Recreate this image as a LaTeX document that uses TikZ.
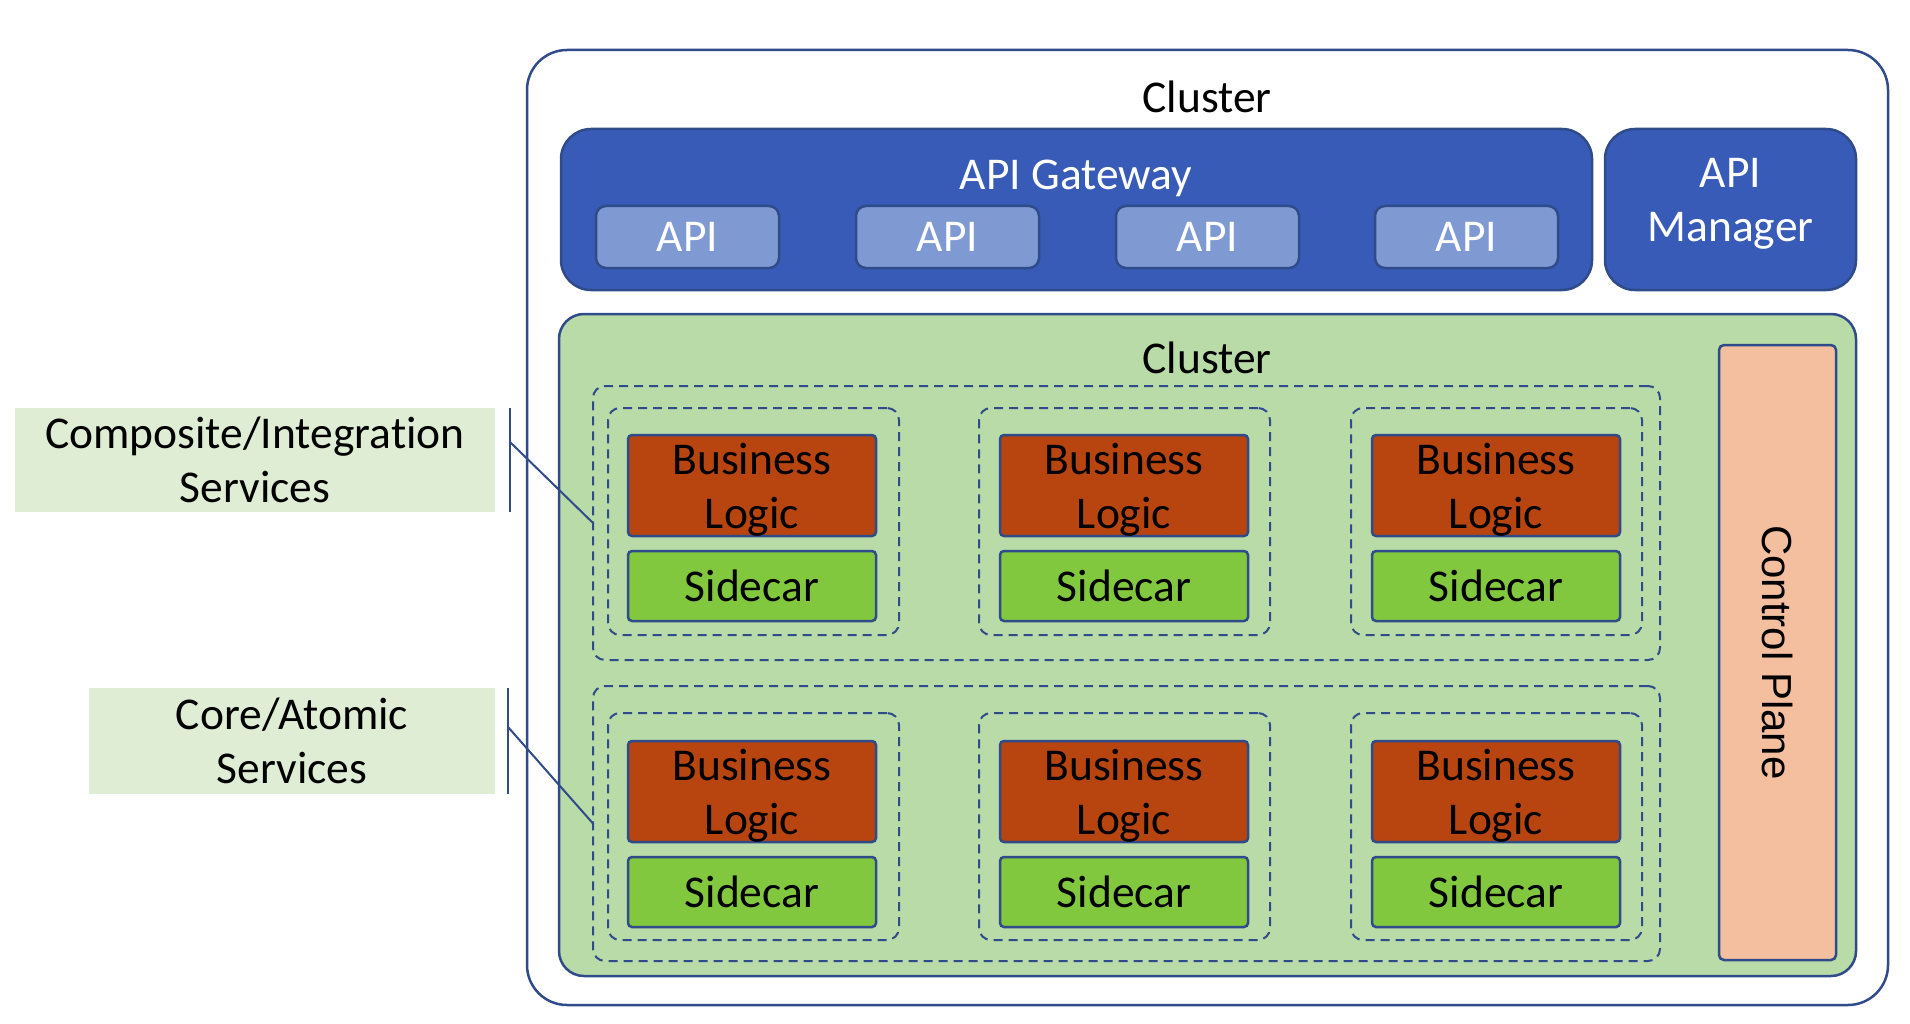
\documentclass[tikz,border=0pt]{standalone}
\usepackage{fontspec}
\setmainfont{Carlito}[Ligatures=NoCommon]
\newfontfamily\cpfont{Liberation Sans}
\definecolor{edge}{HTML}{2F4B8A}
\definecolor{gwfill}{HTML}{375BB6}
\definecolor{apifill}{HTML}{7F9AD3}
\definecolor{clfill}{HTML}{B9DBA7}
\definecolor{blfill}{HTML}{B8440F}
\definecolor{scfill}{HTML}{82C83F}
\definecolor{cpfill}{HTML}{F4BF9F}
\definecolor{lblfill}{HTML}{DEEDD3}
\begin{document}
\begin{tikzpicture}[x=1pt,y=-1pt,
  every node/.style={inner sep=0pt, outer sep=0pt, font=\fontsize{45.5pt}{54pt}\selectfont},
  box/.style={draw=edge, line width=2.5pt, anchor=north west},
  outerbox/.style={box, fill=white, rounded corners=40pt},
  gwbox/.style={box, fill=gwfill, rounded corners=30pt, text=white, align=center},
  apibox/.style={box, fill=apifill, rounded corners=10pt, text=white, minimum width=183pt, minimum height=62pt},
  clbox/.style={box, fill=clfill, rounded corners=25pt},
  cpbox/.style={box, fill=cpfill, rounded corners=5pt},
  grpbox/.style={draw=edge, line width=2pt, dash pattern=on 9pt off 6pt, rounded corners=12pt, anchor=north west},
  blbox/.style={box, fill=blfill, rounded corners=4pt, align=center, text depth=0pt, minimum width=248pt, minimum height=101pt},
  scbox/.style={box, fill=scfill, rounded corners=4pt, minimum width=248pt, minimum height=70pt},
  lblbox/.style={fill=lblfill, anchor=north west, align=center},
  conn/.style={draw=edge, line width=2pt}
]
\useasboundingbox (0,0) rectangle (1910,1024);

% outer cluster
\node[outerbox, minimum width=1361pt, minimum height=955pt] (outer) at (527,50) {};
\node (t1) at (1207,97) {Cluster};

% API gateway
\node[gwbox, minimum width=1031pt, minimum height=161pt] (gw) at (561,129) {};
\node[text=white] (gwt) at (1076,178) {API Gateway};
\node[apibox] (api1) at (596,206) {API};
\node[apibox] (api2) at (856,206) {API};
\node[apibox] (api3) at (1116,206) {API};
\node[apibox] (api4) at (1375,206) {API};

% API manager
\node[gwbox, text depth=19pt, minimum width=251pt, minimum height=161pt] (mgr) at (1605,129) {API\\Manager};

% inner cluster
\node[clbox, minimum width=1297pt, minimum height=662pt] (cl) at (559,314) {};
\node (t2) at (1207,358) {Cluster};

% control plane
\node[cpbox, minimum width=117pt, minimum height=615pt] (cp) at (1719,345) {};
\node[font=\cpfont\fontsize{42pt}{50pt}\selectfont, rotate=-90] (cpt) at (cp.center) {Control Plane};

% groups
\node[grpbox, minimum width=1067pt, minimum height=274pt] (grpU) at (593,386) {};
\node[grpbox, minimum width=1067pt, minimum height=275pt] (grpL) at (593,686) {};

% upper services
\node[grpbox, minimum width=291pt, minimum height=227pt] (su1) at (608,408) {};
\node[grpbox, minimum width=291pt, minimum height=227pt] (su2) at (979,408) {};
\node[grpbox, minimum width=291pt, minimum height=227pt] (su3) at (1351,408) {};
\node[blbox] (blu1) at (628,435) {Business\\Logic};
\node[blbox] (blu2) at (1000,435) {Business\\Logic};
\node[blbox] (blu3) at (1372,435) {Business\\Logic};
\node[scbox] (scu1) at (628,551) {Sidecar};
\node[scbox] (scu2) at (1000,551) {Sidecar};
\node[scbox] (scu3) at (1372,551) {Sidecar};

% lower services
\node[grpbox, minimum width=291pt, minimum height=227pt] (sl1) at (608,713) {};
\node[grpbox, minimum width=291pt, minimum height=227pt] (sl2) at (979,713) {};
\node[grpbox, minimum width=291pt, minimum height=227pt] (sl3) at (1351,713) {};
\node[blbox] (bll1) at (628,741) {Business\\Logic};
\node[blbox] (bll2) at (1000,741) {Business\\Logic};
\node[blbox] (bll3) at (1372,741) {Business\\Logic};
\node[scbox] (scl1) at (628,857) {Sidecar};
\node[scbox] (scl2) at (1000,857) {Sidecar};
\node[scbox] (scl3) at (1372,857) {Sidecar};

% labels
\node[lblbox, minimum width=480pt, minimum height=104pt] (lbl1) at (15,408) {Composite/Integration\\Services};
\node[lblbox, minimum width=406pt, minimum height=106pt] (lbl2) at (89,688) {Core/Atomic\\Services};

\coordinate (b1t) at (510,408);
\coordinate (b1b) at (510,512);
\coordinate (b1m) at (510,442);
\coordinate (b2t) at (508,688);
\coordinate (b2b) at (508,794);
\coordinate (b2m) at (508,727);
\draw[conn] (b1t) -- (b1b);
\draw[conn] (b1m) -- (grpU.west);
\draw[conn] (b2t) -- (b2b);
\draw[conn] (b2m) -- (grpL.west);
\end{tikzpicture}
\end{document}
